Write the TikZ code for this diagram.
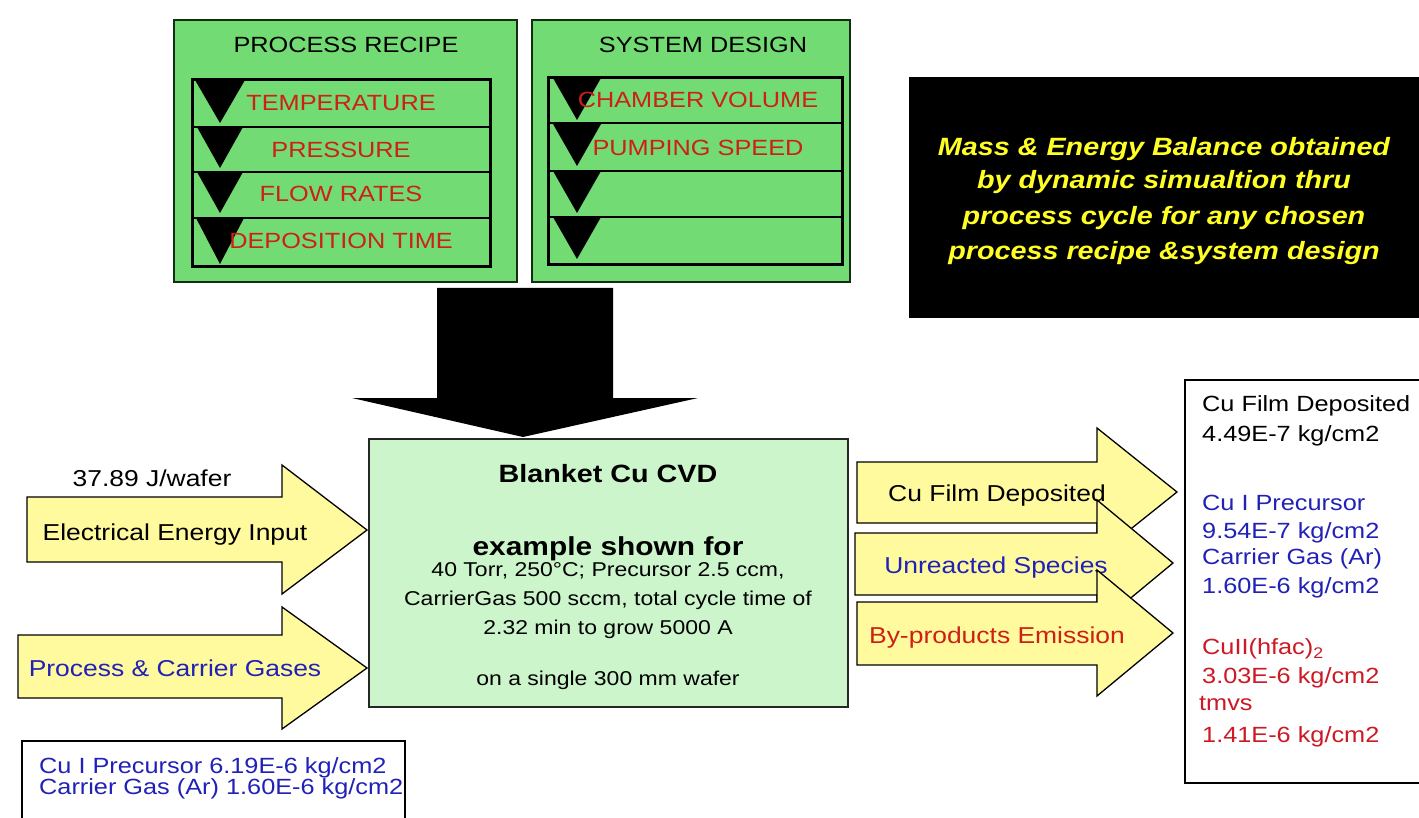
\documentclass[tikz,border=0pt]{standalone}
\usepackage{fontspec}
\setmainfont{Liberation Sans}[FakeStretch=1.15]
\definecolor{panelgreen}{rgb}{0.45,0.86,0.45}
\definecolor{boxgreen}{rgb}{0.80,0.96,0.80}
\definecolor{ayellow}{rgb}{1,0.98,0.62}
\definecolor{rtext}{rgb}{0.80,0.13,0.08}
\definecolor{btext}{rgb}{0.13,0.13,0.72}
\definecolor{otext}{rgb}{0.80,0.10,0.14}
\definecolor{ytext}{rgb}{1,1,0.15}
\definecolor{pdark}{rgb}{0.08,0.18,0.08}
\begin{document}
\begin{tikzpicture}[x=1pt,y=-1pt,
  box/.style={anchor=north west, inner sep=0pt, outer sep=0pt},
  panel/.style={box, draw=pdark, line width=1.5pt, fill=panelgreen},
  listbox/.style={box, draw=black, line width=3pt},
  rowline/.style={draw=black, line width=2pt},
  yarrow/.style={draw=black, line width=1.3pt, fill=ayellow, line join=miter},
  sA/.style={inner sep=0pt, font=\fontsize{22}{26}\selectfont, text height=15.8pt, text depth=0pt},
  sB/.style={inner sep=0pt, font=\fontsize{23}{27}\selectfont, text height=16.5pt, text depth=0pt},
  sS/.style={inner sep=0pt, font=\fontsize{20}{24}\selectfont, text height=14.4pt, text depth=0pt},
  sY/.style={inner sep=0pt, text=ytext, font=\fontsize{25}{34}\bfseries\itshape\selectfont, text height=18pt, text depth=0pt},
  row/.style={sA, text=rtext},
]
\useasboundingbox (0,0) rectangle (1419,818);

% ---------- PROCESS RECIPE ----------
\node[panel, minimum width=343pt, minimum height=262pt] (pr) at (174,20) {};
\node[sA] (prt) at (346,45) {PROCESS RECIPE};
\fill (195,80) -- (245,80) -- (220,123) -- cycle;
\fill (197,127) -- (243,127) -- (220,168) -- cycle;
\fill (197,172) -- (243,172) -- (220,213) -- cycle;
\fill (196,218) -- (244,218) -- (220,264) -- cycle;
\draw[rowline] (192,127) -- (490,127) (192,172) -- (490,172) (192,218) -- (490,218);
\node[listbox, minimum width=298pt, minimum height=187pt] (prl) at (192,80) {};
\node[row] (pr1) at (341,103) {TEMPERATURE};
\node[row] (pr2) at (341,150) {PRESSURE};
\node[row] (pr3) at (341,194) {FLOW RATES};
\node[row] (pr4) at (341,241) {DEPOSITION TIME};

% ---------- SYSTEM DESIGN ----------
\node[panel, minimum width=318pt, minimum height=262pt] (sd) at (532,20) {};
\node[sA] (sdt) at (703,45) {SYSTEM DESIGN};
\fill (553,78) -- (601,78) -- (577,120) -- cycle;
\fill (553,124) -- (601,124) -- (577,166) -- cycle;
\fill (553,171) -- (601,171) -- (577,213) -- cycle;
\fill (553,217) -- (601,217) -- (577,259) -- cycle;
\draw[rowline] (548,123) -- (842,123) (548,171) -- (842,171) (548,217) -- (842,217);
\node[listbox, minimum width=294pt, minimum height=187pt] (sdl) at (548,78) {};
\node[row] (sd1) at (698,100) {CHAMBER VOLUME};
\node[row] (sd2) at (698,148) {PUMPING SPEED};

% ---------- BALANCE NOTE ----------
\node[box, fill=black, minimum width=520pt, minimum height=241pt] (bal) at (909,77) {};
\node[sY] (bal1) at (1164,147) {Mass \& Energy Balance obtained};
\node[sY] (bal2) at (1164,180) {by dynamic simualtion thru};
\node[sY] (bal3) at (1164,216) {process cycle for any chosen};
\node[sY] (bal4) at (1164,251) {process recipe \&system design};

% ---------- BIG DOWN ARROW ----------
\fill (437,288) -- (613,288) -- (613,398) -- (698,398) -- (523,437) -- (352,398) -- (437,398) -- cycle;

% ---------- CENTRAL BOX ----------
\node[box, draw=black!85, line width=2pt, fill=boxgreen, minimum width=479pt, minimum height=268pt] (cvd) at (369,439) {};
\node[inner sep=0pt, font=\fontsize{25}{30}\bfseries\selectfont, text height=18pt, text depth=0pt] (cvd1) at (608,473) {Blanket Cu CVD};
\node[inner sep=0pt, font=\fontsize{26}{30}\bfseries\selectfont, text height=18.7pt, text depth=0pt] (cvd2) at (608,546) {example shown for};
\node[sS] (cvd3) at (608,569) {40 Torr, 250°C; Precursor 2.5 ccm,};
\node[sS] (cvd4) at (608,598) {CarrierGas 500 sccm, total cycle time of};
\node[sS] (cvd5) at (608,627) {2.32 min to grow 5000 A};
\node[sS] (cvd6) at (608,678) {on a single 300 mm wafer};

% ---------- INPUT ARROWS ----------
\draw[yarrow] (27,497) -- (282,497) -- (282,465) -- (367,530) -- (282,594) -- (282,562) -- (27,562) -- cycle;
\node[sB] (ein) at (175,532) {Electrical Energy Input};
\node[sB] (ejw) at (152,478) {37.89 J/wafer};
\draw[yarrow] (18,635) -- (282,635) -- (282,607) -- (367,668) -- (282,729) -- (282,698) -- (18,698) -- cycle;
\node[sB, text=btext] (gin) at (175,668) {Process \& Carrier Gases};

% ---------- INPUT AMOUNTS ----------
\node[box, draw=black, line width=1.5pt, fill=white, minimum width=383pt, minimum height=100pt] (inb) at (22,741) {};
\node[sA, anchor=west, text=btext] (in1) at (39,766) {Cu I Precursor 6.19E-6 kg/cm2};
\node[sA, anchor=west, text=btext] (in2) at (39,787) {Carrier Gas (Ar) 1.60E-6 kg/cm2};

% ---------- OUTPUT ARROWS ----------
\draw[yarrow] (857,462) -- (1097,462) -- (1097,428) -- (1177,492) -- (1097,556) -- (1097,523) -- (857,523) -- cycle;
\node[sB] (o1) at (997,493) {Cu Film Deposited};
\draw[yarrow] (855,533) -- (1097,533) -- (1097,500) -- (1173,563) -- (1097,626) -- (1097,595) -- (855,595) -- cycle;
\node[sB, text=btext] (o2) at (996,565) {Unreacted Species};
\draw[yarrow] (857,602) -- (1097,602) -- (1097,570) -- (1173,633) -- (1097,696) -- (1097,665) -- (857,665) -- cycle;
\node[sB, text=rtext] (o3) at (997,635) {By-products Emission};

% ---------- OUTPUT AMOUNTS ----------
\node[box, draw=black, line width=1.5pt, fill=white, minimum width=250pt, minimum height=403pt] (outb) at (1185,380) {};
\node[sA, anchor=west] (r1) at (1202,404) {Cu Film Deposited};
\node[sA, anchor=west] (r2) at (1202,434) {4.49E-7 kg/cm2};
\node[sA, anchor=west, text=btext] (r3) at (1202,503) {Cu I Precursor};
\node[sA, anchor=west, text=btext] (r4) at (1202,531) {9.54E-7 kg/cm2};
\node[sA, anchor=west, text=btext] (r5) at (1202,557) {Carrier Gas (Ar)};
\node[sA, anchor=west, text=btext] (r6) at (1202,586) {1.60E-6 kg/cm2};
\node[sA, anchor=west, text=otext] (r7) at (1202,647) {CuII(hfac)\textsubscript{2}};
\node[sA, anchor=west, text=otext] (r8) at (1202,676) {3.03E-6 kg/cm2};
\node[sA, anchor=west, text=otext] (r9) at (1199,703) {tmvs};
\node[sA, anchor=west, text=otext] (r10) at (1202,735) {1.41E-6 kg/cm2};
\end{tikzpicture}
\end{document}
